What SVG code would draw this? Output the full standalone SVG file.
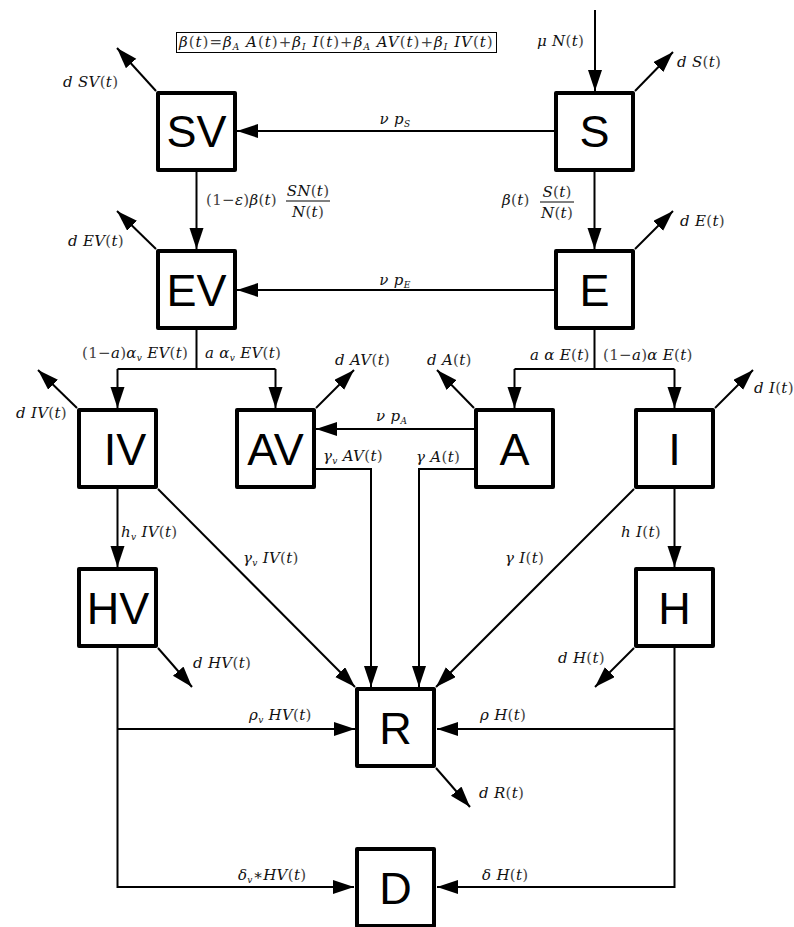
<svg xmlns="http://www.w3.org/2000/svg" width="794" height="927" viewBox="0 0 794 927">
<defs>
<marker id="ah" markerUnits="userSpaceOnUse" markerWidth="22" markerHeight="16" refX="21" refY="7" orient="auto">
<path d="M0,0 L21,7 L0,14 z" fill="#000"/>
</marker>
<style>
.box{fill:#fff;stroke:#000;stroke-width:4;stroke-linejoin:round}
.bl{font-family:"Liberation Sans",Arial,sans-serif;font-size:45px;text-anchor:middle;fill:#000}
.c{fill:none;stroke:#000;stroke-width:2}
.a{fill:none;stroke:#000;stroke-width:2;marker-end:url(#ah)}
.m{font-family:"DejaVu Serif",serif;font-size:15px;font-style:italic;fill:#111;letter-spacing:0.3px}
.n{font-style:normal;fill:#444}
.sb{font-size:9px}
.mid{text-anchor:middle}
</style>
</defs>
<rect x="0" y="0" width="794" height="927" fill="#fff"/>

<g id="connectors">
<path class="a" d="M595,10 V91"/>
<path class="a" d="M554,131 H237"/>
<path class="a" d="M196.5,172 V249"/>
<path class="a" d="M594.5,172 V249"/>
<path class="a" d="M554,290 H237"/>
<path class="c" d="M196.5,330 V369 M117.5,369 H275.5"/>
<path class="a" d="M117.5,369 V408"/>
<path class="a" d="M275.5,369 V408"/>
<path class="c" d="M594.5,330 V369 M514.5,369 H674.5"/>
<path class="a" d="M514.5,369 V408"/>
<path class="a" d="M674.5,369 V408"/>
<path class="a" d="M474,429 H316"/>
<path class="a" d="M316,469 H371 V687"/>
<path class="a" d="M474,469 H419 V687"/>
<path class="a" d="M117.5,489 V567"/>
<path class="a" d="M158,489 L355,687"/>
<path class="a" d="M634,489 L436,687"/>
<path class="a" d="M674.5,489 V567"/>
<path class="a" d="M117.5,648 V887 H354"/>
<path class="a" d="M117.5,729 H355"/>
<path class="a" d="M674.5,648 V887 H437"/>
<path class="a" d="M674.5,729 H437"/>
<path class="a" d="M635,91 L673,52"/>
<path class="a" d="M156,91 L117,48"/>
<path class="a" d="M156,249 L117,211"/>
<path class="a" d="M635,249 L673,211"/>
<path class="a" d="M77,408 L38,370"/>
<path class="a" d="M316,408 L354,370"/>
<path class="a" d="M474,408 L437,370"/>
<path class="a" d="M715,408 L753,370"/>
<path class="a" d="M158,648 L192,687"/>
<path class="a" d="M634,648 L595,687"/>
<path class="a" d="M436,768 L470,807"/>
</g>

<g id="node-S"><rect class="box" x="556" y="93" width="77" height="77"/><text class="bl" x="594.5" y="147">S</text></g>
<g id="node-SV"><rect class="box" x="158" y="93" width="77" height="77"/><text class="bl" x="196.5" y="147">SV</text></g>
<g id="node-EV"><rect class="box" x="158" y="251" width="77" height="77"/><text class="bl" x="196.5" y="306">EV</text></g>
<g id="node-E"><rect class="box" x="556" y="251" width="77" height="77"/><text class="bl" x="594.5" y="306">E</text></g>
<g id="node-IV"><rect class="box" x="79" y="410" width="77" height="77"/><text class="bl" x="125" y="465">IV</text></g>
<g id="node-AV"><rect class="box" x="237" y="410" width="77" height="77"/><text class="bl" x="275.5" y="465">AV</text></g>
<g id="node-A"><rect class="box" x="476" y="410" width="77" height="77"/><text class="bl" x="514.5" y="465">A</text></g>
<g id="node-I"><rect class="box" x="636" y="410" width="77" height="77"/><text class="bl" x="674.5" y="465">I</text></g>
<g id="node-HV"><rect class="box" x="79" y="569" width="77" height="77"/><text class="bl" x="118" y="624">HV</text></g>
<g id="node-H"><rect class="box" x="636" y="569" width="77" height="77"/><text class="bl" x="674.5" y="624">H</text></g>
<g id="node-R"><rect class="box" x="357" y="689" width="77" height="77"/><text class="bl" x="395.5" y="744">R</text></g>
<g id="node-D"><rect class="box" x="357" y="849" width="77" height="77"/><text class="bl" x="395.5" y="904">D</text></g>

<g id="formula">
<rect x="176.5" y="32.5" width="320" height="20" fill="none" stroke="#000" stroke-width="1"/>
<text class="m" x="179" y="47" textLength="314" lengthAdjust="spacing">β<tspan class="n">(</tspan>t<tspan class="n">)=</tspan>β<tspan class="sb" dy="3">A</tspan><tspan dy="-3"> A</tspan><tspan class="n">(</tspan>t<tspan class="n">)+</tspan>β<tspan class="sb" dy="3">I</tspan><tspan dy="-3"> I</tspan><tspan class="n">(</tspan>t<tspan class="n">)+</tspan>β<tspan class="sb" dy="3">A</tspan><tspan dy="-3"> AV</tspan><tspan class="n">(</tspan>t<tspan class="n">)+</tspan>β<tspan class="sb" dy="3">I</tspan><tspan dy="-3"> IV</tspan><tspan class="n">(</tspan>t<tspan class="n">)</tspan></text>
</g>

<g id="labels">
<text class="m" x="537" y="46">μ N<tspan class="n">(</tspan>t<tspan class="n">)</tspan></text>
<text class="m" x="677" y="67">d S<tspan class="n">(</tspan>t<tspan class="n">)</tspan></text>
<text class="m" x="63" y="87">d SV<tspan class="n">(</tspan>t<tspan class="n">)</tspan></text>
<text class="m mid" x="395" y="124">ν p<tspan class="sb" dy="3">S</tspan></text>

<text class="m" x="206" y="205"><tspan class="n">(1−</tspan>ε<tspan class="n">)</tspan>β<tspan class="n">(</tspan>t<tspan class="n">)</tspan></text>
<text class="m mid" x="308" y="196">SN<tspan class="n">(</tspan>t<tspan class="n">)</tspan></text>
<line x1="286" y1="201" x2="330" y2="201" stroke="#000" stroke-width="1"/>
<text class="m mid" x="308" y="217">N<tspan class="n">(</tspan>t<tspan class="n">)</tspan></text>

<text class="m" x="502" y="205">β<tspan class="n">(</tspan>t<tspan class="n">)</tspan></text>
<text class="m mid" x="557" y="197">S<tspan class="n">(</tspan>t<tspan class="n">)</tspan></text>
<line x1="540" y1="202" x2="574" y2="202" stroke="#000" stroke-width="1"/>
<text class="m mid" x="557" y="218">N<tspan class="n">(</tspan>t<tspan class="n">)</tspan></text>

<text class="m" x="68" y="246">d EV<tspan class="n">(</tspan>t<tspan class="n">)</tspan></text>
<text class="m" x="680" y="226">d E<tspan class="n">(</tspan>t<tspan class="n">)</tspan></text>
<text class="m mid" x="395" y="285">ν p<tspan class="sb" dy="3">E</tspan></text>

<text class="m" x="82" y="358"><tspan class="n">(1−</tspan>a<tspan class="n">)</tspan>α<tspan class="sb" dy="3">v</tspan><tspan dy="-3"> EV</tspan><tspan class="n">(</tspan>t<tspan class="n">)</tspan></text>
<text class="m" x="205" y="358">a α<tspan class="sb" dy="3">v</tspan><tspan dy="-3"> EV</tspan><tspan class="n">(</tspan>t<tspan class="n">)</tspan></text>
<text class="m" x="530" y="360">a α E<tspan class="n">(</tspan>t<tspan class="n">)</tspan></text>
<text class="m" x="603" y="360"><tspan class="n">(1−</tspan>a<tspan class="n">)</tspan>α E<tspan class="n">(</tspan>t<tspan class="n">)</tspan></text>

<text class="m" x="427" y="365">d A<tspan class="n">(</tspan>t<tspan class="n">)</tspan></text>
<text class="m" x="16" y="418">d IV<tspan class="n">(</tspan>t<tspan class="n">)</tspan></text>
<text class="m" x="335" y="365">d AV<tspan class="n">(</tspan>t<tspan class="n">)</tspan></text>
<text class="m" x="754" y="393">d I<tspan class="n">(</tspan>t<tspan class="n">)</tspan></text>
<text class="m" x="376" y="421">ν p<tspan class="sb" dy="3">A</tspan></text>
<text class="m" x="323" y="461">γ<tspan class="sb" dy="3">v</tspan><tspan dy="-3"> AV</tspan><tspan class="n">(</tspan>t<tspan class="n">)</tspan></text>
<text class="m" x="416" y="462">γ A<tspan class="n">(</tspan>t<tspan class="n">)</tspan></text>

<text class="m" x="121" y="537">h<tspan class="sb" dy="3">v</tspan><tspan dy="-3"> IV</tspan><tspan class="n">(</tspan>t<tspan class="n">)</tspan></text>
<text class="m" x="621" y="537">h I<tspan class="n">(</tspan>t<tspan class="n">)</tspan></text>
<text class="m" x="243" y="563">γ<tspan class="sb" dy="3">v</tspan><tspan dy="-3"> IV</tspan><tspan class="n">(</tspan>t<tspan class="n">)</tspan></text>
<text class="m" x="505" y="563">γ I<tspan class="n">(</tspan>t<tspan class="n">)</tspan></text>

<text class="m" x="193" y="668">d HV<tspan class="n">(</tspan>t<tspan class="n">)</tspan></text>
<text class="m" x="558" y="663">d H<tspan class="n">(</tspan>t<tspan class="n">)</tspan></text>
<text class="m" x="249" y="720">ρ<tspan class="sb" dy="3">v</tspan><tspan dy="-3"> HV</tspan><tspan class="n">(</tspan>t<tspan class="n">)</tspan></text>
<text class="m" x="480" y="720">ρ H<tspan class="n">(</tspan>t<tspan class="n">)</tspan></text>
<text class="m" x="479" y="798">d R<tspan class="n">(</tspan>t<tspan class="n">)</tspan></text>
<text class="m" x="238" y="880">δ<tspan class="sb" dy="3">v</tspan><tspan dy="-3">∗HV</tspan><tspan class="n">(</tspan>t<tspan class="n">)</tspan></text>
<text class="m" x="482" y="880">δ H<tspan class="n">(</tspan>t<tspan class="n">)</tspan></text>
</g>
</svg>
